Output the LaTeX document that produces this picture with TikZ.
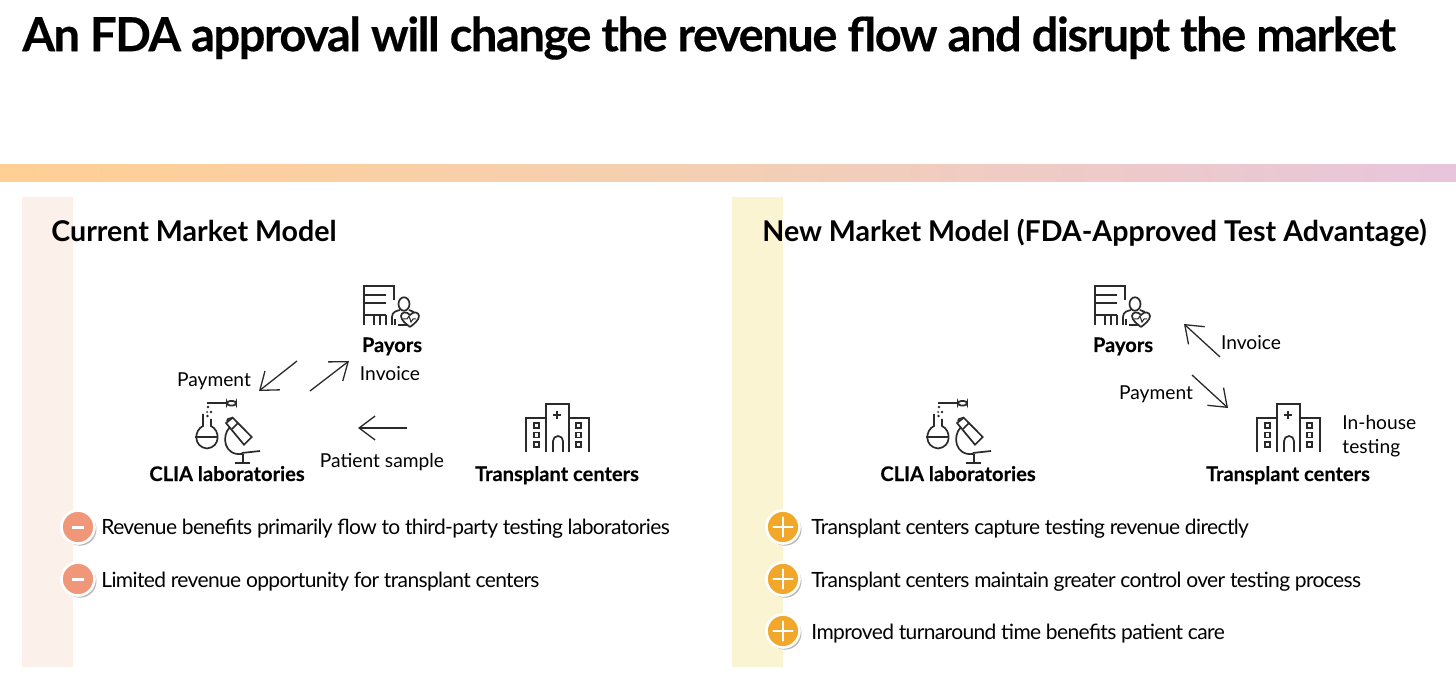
\documentclass[tikz,border=0pt]{standalone}
\usepackage{fontspec}
\usepackage{xcolor}
\usetikzlibrary{arrows.meta, shadows}
\setmainfont{Lato}
\newfontfamily\titlefont[LetterSpace=-3.1, FakeBold=0.3]{Lato Bold}
\newfontfamily\headfont{Lato Bold}
\newfontfamily\actorfont[FakeBold=0.3]{Lato Bold}
\newfontfamily\bulletfont[LetterSpace=-3.0]{Lato}
\definecolor{barL}{HTML}{FFCF94}
\definecolor{barM}{HTML}{F4CFB4}
\definecolor{barR}{HTML}{E8C5DC}
\definecolor{bandL}{HTML}{FCF0EB}
\definecolor{bandR}{HTML}{FBF4D2}
\definecolor{minusC}{HTML}{F0977A}
\definecolor{plusC}{HTML}{F0A72A}
\definecolor{iconC}{HTML}{2A2A2A}
\tikzset{
    iconline/.style={draw=iconC, line width=0.85pt},
    maintitle/.style={font=\titlefont\fontsize{23.5}{28}\selectfont, anchor=west, inner sep=0pt},
    panelhead/.style={font=\headfont\fontsize{14.3}{16}\selectfont, anchor=base west, inner sep=0pt},
    actor/.style={font=\actorfont\fontsize{10.05}{12}\selectfont, inner sep=0pt, anchor=base},
    flowtext/.style={font=\fontsize{9.6}{12}\selectfont, inner sep=0pt, anchor=base},
    housetext/.style={font=\fontsize{9.6}{12}\selectfont, inner sep=0pt, align=left, anchor=west},
    bullettext/.style={font=\bulletfont\fontsize{10.5}{13}\selectfont, anchor=base west, inner sep=0pt},
    flow/.style={->, line width=0.65pt, draw=iconC},
    bulletdot/.style={circle, draw=white, line width=1.3pt, minimum size=16.5pt, inner sep=0pt,
        drop shadow={shadow xshift=1pt, shadow yshift=-1.1pt, opacity=0.55}},
    minusdot/.style={bulletdot, fill=minusC, path picture={
        \draw[white, line width=1.5pt] (path picture bounding box.center) ++(-6,0) -- ++(12,0);}},
    plusdot/.style={bulletdot, fill=plusC, path picture={
        \draw[white, line width=1.1pt, line cap=round] (path picture bounding box.center) ++(-9.5,0) -- ++(19,0);
        \draw[white, line width=1.1pt, line cap=round] (path picture bounding box.center) ++(0,-9.5) -- ++(0,19);}},
    payoricon/.pic={
        \draw[iconline] (0,39) -- (0,0) -- (30,0) -- (30,14);
        \draw[iconline] (0,9) -- (22,9) (0,17) -- (22,17) (0,29) -- (22,29);
        \draw[iconline] (10,29) -- (10,39) (16,29) -- (16,39) (22,29) -- (22,39);
        \draw[iconline] (40,18) ellipse (5.5 and 6.7);
        \draw[iconline] (28,39) -- (28,31) .. controls (28,26) and (32,25) .. (36,24) (45,24) -- (50,26);
        \draw[iconline] (31,39) -- (31,33) (34,39) -- (46,39);
        \draw[iconline, fill=white] (46,41) .. controls (42,38) and (37,34) .. (37,30)
            .. controls (37,26) and (43,25) .. (46,29)
            .. controls (49,25) and (55,26) .. (55,30)
            .. controls (55,34) and (50,38) .. (46,41);
        \draw[iconline, line width=0.5pt] (39,33) -- (43,33) -- (45,30) -- (47,36) -- (49,33) -- (52,33);
    },
    labicon/.pic={
        \draw[iconline] (12,2) -- (32,2);
        \draw[iconline, rounded corners=1.5] (32,0) rectangle (41,4.5);
        \fill[iconC] (13,6) circle (1.3) (16,11) circle (1.3) (12.5,15) circle (1.3) (12,11) circle (1);
        \draw[iconline] (8,13) -- (8,25) .. controls (-1,29) and (-2,46) .. (12,47.5)
            .. controls (26,46) and (25,29) .. (16,25) -- (16,18);
        \draw[iconline] (0,36) -- (23,36);
        \draw[iconline] (31,22) -- (37.7,16.7) -- (56.7,36) -- (49,43.7) -- cycle;
        \draw[iconline] (37,28) -- (43,22);
        \draw[iconline] (32,20) -- (33,18) -- (37.7,16.7);
        \draw[iconline] (35,26) .. controls (26,35) and (29,55) .. (47,53);
        \draw[iconline] (46.7,52) -- (65,50);
        \draw[iconline] (47.7,53) -- (47.7,62) (40,62) -- (55,62);
    },
    hospicon/.pic={
        \draw[iconline] (0,48) -- (0,14) -- (20,14) (20,48) -- (20,0) -- (43,0) -- (43,48) (43,14) -- (63,14) -- (63,48);
        \draw[iconline] (31,6.7) -- (31,14.7) (27,10.7) -- (35,10.7);
        \foreach \wy in {19,28.5,38} {
            \draw[iconline] (8,\wy) rectangle (13,\wy+5);
            \draw[iconline] (50,\wy) rectangle (55,\wy+5);
        }
        \draw[iconline] (27,48) -- (27,37) arc (180:360:5) -- (37,48);
    }
}

\begin{document}
\begin{tikzpicture}[x=0.5pt, y=-0.5pt, >={Straight Barb[length=8pt, width=12pt, line width=0.65pt]}]
    \useasboundingbox (0,0) rectangle (1456,673);
    % Bands
    \fill[white] (0,0) rectangle (1456,673);
    \shade[left color=barL, right color=barR, middle color=barM] (0,165) rectangle (1456,182);
    \fill[bandL] (22,197) rectangle (73,667);
    \fill[bandR] (732,197) rectangle (783,667);
    % Title
    \node[maintitle] (Title) at (22,38) {An FDA approval will change the revenue flow and disrupt the market};
    \node[panelhead] (HeadL) at (51,242) {Current Market Model};
    \node[panelhead] (HeadR) at (762,242) {New Market Model (FDA-Approved Test Advantage)};
    % Icons
    \pic at (364,286) {payoricon};
    \pic at (195,401) {labicon};
    \pic at (526,404) {hospicon};
    \pic at (1095,286) {payoricon};
    \pic at (926,401) {labicon};
    \pic at (1257,404) {hospicon};
    % Nodes
    \node[actor] (PayorsL) at (392,352) {Payors};
    \node[actor] (LabsL) at (227,481) {CLIA laboratories};
    \node[actor] (CentersL) at (557,481) {Transplant centers};
    \node[actor] (PayorsR) at (1123,352) {Payors};
    \node[actor] (LabsR) at (958,481) {CLIA laboratories};
    \node[actor] (CentersR) at (1288,481) {Transplant centers};
    \node[flowtext] (PaymentL) at (214,387) {Payment};
    \node[flowtext] (InvoiceL) at (390,381) {Invoice};
    \node[flowtext] (SampleL) at (382,467) {Patient sample};
    \node[flowtext] (InvoiceR) at (1251,350) {Invoice};
    \node[flowtext] (PaymentR) at (1156,400) {Payment};
    \node[housetext] (InHouse) at (1342,436) {In-house\\testing};
    % Arrow ends
    \coordinate (a1) at (297,361);
    \coordinate (a2) at (259,391);
    \coordinate (b1) at (310,391);
    \coordinate (b2) at (349,361);
    \coordinate (c1) at (407,428);
    \coordinate (c2) at (358,428);
    \coordinate (d1) at (1220,357);
    \coordinate (d2) at (1184,324);
    \coordinate (e1) at (1192,375);
    \coordinate (e2) at (1228,408);
    % Arrows
    \draw[flow] (a1) -- (a2);
    \draw[flow] (b1) -- (b2);
    \draw[flow] (c1) -- (c2);
    \draw[flow] (d1) -- (d2);
    \draw[flow] (e1) -- (e2);
    % Bullets
    \node[minusdot] (M1) at (78,527) {};
    \node[minusdot] (M2) at (78,579) {};
    \node[plusdot] (P1) at (783,527) {};
    \node[plusdot] (P2) at (783,579) {};
    \node[plusdot] (P3) at (783,631) {};
    \node[bullettext] (TextM1) at (101,534) {Revenue benefits primarily flow to third-party testing laboratories};
    \node[bullettext] (TextM2) at (101,587) {Limited revenue opportunity for transplant centers};
    \node[bullettext] (TextP1) at (811,534) {Transplant centers capture testing revenue directly};
    \node[bullettext] (TextP2) at (811,587) {Transplant centers maintain greater control over testing process};
    \node[bullettext] (TextP3) at (811,639) {Improved turnaround time benefits patient care};
\end{tikzpicture}
\end{document}
